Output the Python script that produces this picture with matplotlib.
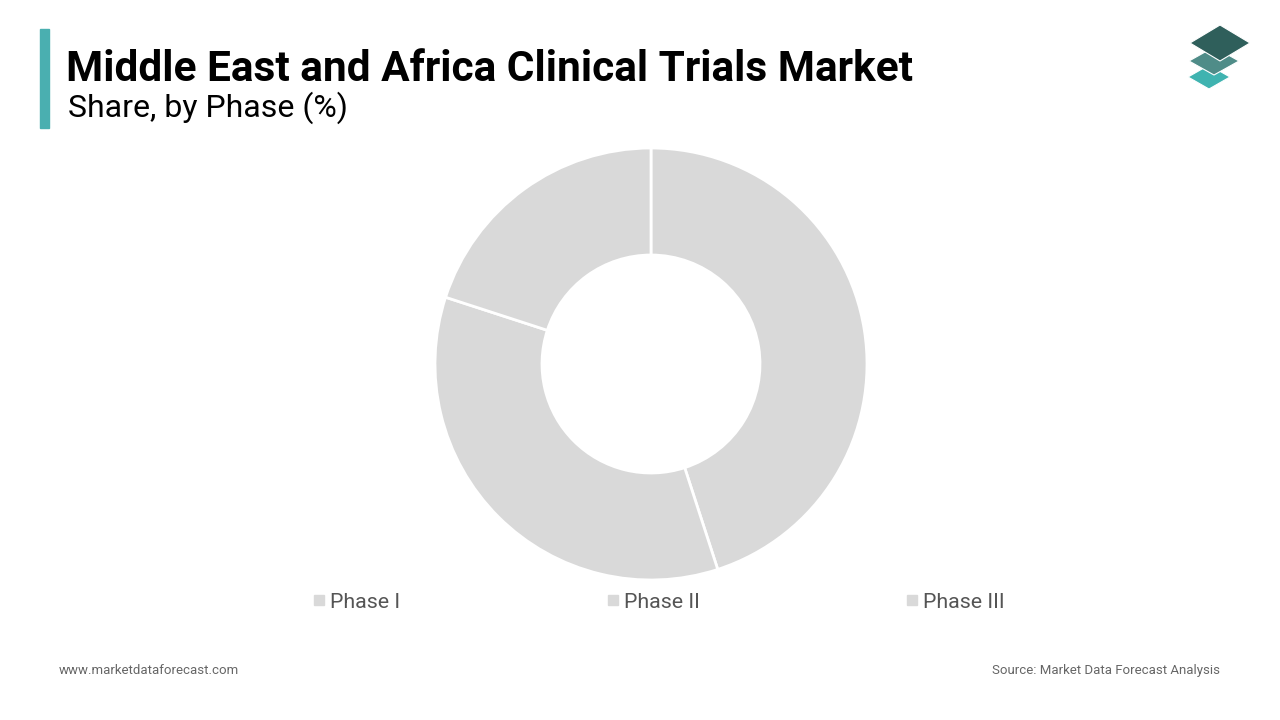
import matplotlib.pyplot as plt
from matplotlib.patches import Polygon, Rectangle

plt.rcParams['font.family'] = ['Roboto', 'DejaVu Sans']

# data
phases = ["Phase I", "Phase II", "Phase III"]
shares = [45, 35, 20]
slice_colors = ["#d9d9d9", "#d9d9d9", "#d9d9d9"]

title = "Middle East and Africa Clinical Trials Market"
subtitle = "Share, by Phase (%)"
site = "www.marketdataforecast.com"
source = "Source: Market Data Forecast Analysis"

W, H = 1280, 720
fig = plt.figure(figsize=(12.8, 7.2), dpi=100)
fig.patch.set_facecolor("white")

# accent bar at left of title
fig.patches.append(Rectangle((40 / W, 1 - 128 / H), 9 / W, 99 / H,
                             transform=fig.transFigure, color="#4aafb0", zorder=2))

fig.text(66 / W, 1 - 81 / H, title, fontsize=30.5, fontweight="bold",
         color="black", va="baseline", ha="left")
fig.text(68 / W, 1 - 117 / H, subtitle, fontsize=23, color="black",
         va="baseline", ha="left")

# logo: three stacked diamonds
def diamond(cx, cy, w, h, col):
    pts = [(cx, cy - h / 2), (cx + w / 2, cy), (cx, cy + h / 2), (cx - w / 2, cy)]
    pts = [(x / W, 1 - y / H) for x, y in pts]
    fig.patches.append(Polygon(pts, closed=True, transform=fig.transFigure,
                               facecolor=col, edgecolor="white", linewidth=0.8))

diamond(1209, 77, 42, 24, "#3fb3b0")
diamond(1214, 61, 50, 28, "#4f8c88")
diamond(1220, 43, 60, 36, "#2f5f5b")

# donut
cx, cy, r = 651, 364, 216
ax = fig.add_axes([(cx - r) / W, (H - cy - r) / H, 2 * r / W, 2 * r / H])
ax.pie(shares, colors=slice_colors, startangle=90, counterclock=False,
       radius=1, wedgeprops=dict(width=107 / 216, edgecolor="white", linewidth=2))
ax.set_xlim(-1, 1)
ax.set_ylim(-1, 1)
ax.set_aspect("equal")
ax.axis("off")

# legend
leg_x = [314, 608, 907]
for x, name, col in zip(leg_x, phases, slice_colors):
    fig.patches.append(Rectangle((x / W, 1 - 605 / H), 10 / W, 10 / H,
                                 transform=fig.transFigure, color=col))
    fig.text((x + 16) / W, 1 - 608 / H, name, fontsize=15.4, color="#555555",
             va="baseline", ha="left")

# footer
fig.text(59 / W, 1 - 674 / H, site, fontsize=9.5, color="#666666", va="baseline", ha="left")
fig.text(1220 / W, 1 - 674 / H, source, fontsize=9.5, color="#666666", va="baseline", ha="right")

fig.savefig("out.png", dpi=100)
